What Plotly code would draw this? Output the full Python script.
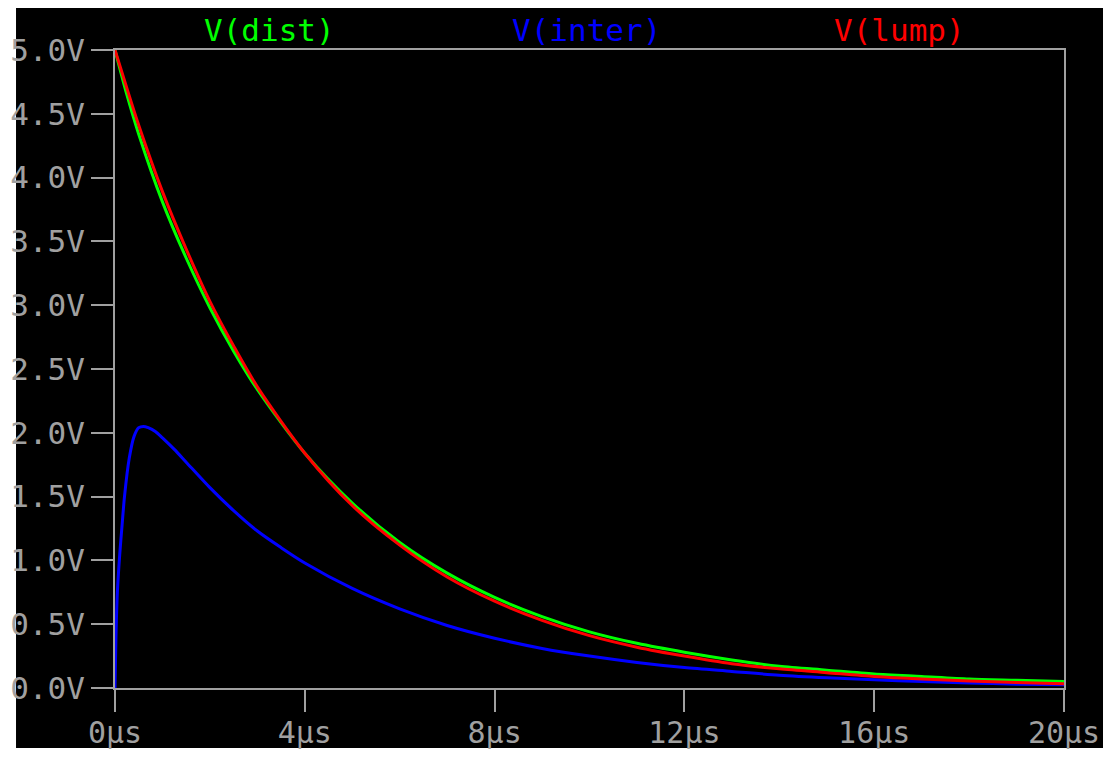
import plotly.graph_objects as go

# time axis in microseconds
t_lump = [0, 0.25, 0.5, 1, 1.5, 2, 2.5, 3, 4, 5, 6, 7, 8, 9, 10, 11, 12, 13, 14, 15, 16, 17, 18, 19, 20]
v_lump = [5.00, 4.70, 4.41, 3.89, 3.44, 3.03, 2.68, 2.36, 1.84, 1.43, 1.12, 0.87, 0.68, 0.53, 0.41,
          0.32, 0.25, 0.19, 0.15, 0.12, 0.09, 0.07, 0.055, 0.043, 0.034]

t_dist = [0, 0.25, 0.5, 1, 1.5, 2, 2.5, 3, 4, 5, 6, 7, 8, 9, 10, 11, 12, 13, 14, 15, 16, 17, 18, 19, 20]
v_dist = [5.00, 4.65, 4.34, 3.81, 3.37, 2.98, 2.64, 2.34, 1.84, 1.45, 1.14, 0.90, 0.71, 0.56, 0.44,
          0.35, 0.28, 0.22, 0.17, 0.14, 0.11, 0.09, 0.07, 0.06, 0.05]

t_inter = [0, 0.02, 0.05, 0.1, 0.15, 0.2, 0.3, 0.4, 0.5, 0.6, 0.7, 0.85, 1.0, 1.25, 1.5, 2, 2.5, 3, 3.5,
           4, 5, 6, 7, 8, 9, 10, 11, 12, 13, 14, 15, 16, 17, 18, 19, 20]
v_inter = [0.0, 0.40, 0.75, 1.05, 1.28, 1.50, 1.80, 1.97, 2.04, 2.05, 2.04, 2.01, 1.96, 1.87, 1.77, 1.57,
           1.39, 1.23, 1.10, 0.98, 0.78, 0.62, 0.49, 0.39, 0.31, 0.25, 0.20, 0.16, 0.13, 0.10, 0.08,
           0.065, 0.05, 0.04, 0.03, 0.025]

series_names = ["V(dist)", "V(inter)", "V(lump)"]
series_colors = ["#00ff00", "#0000ff", "#ff0000"]

x_tickvals = [0, 4, 8, 12, 16, 20]
x_ticktext = ["0µs", "4µs", "8µs", "12µs", "16µs", "20µs"]
y_tickvals = [0, 0.5, 1.0, 1.5, 2.0, 2.5, 3.0, 3.5, 4.0, 4.5, 5.0]
y_ticktext = ["0.0V", "0.5V", "1.0V", "1.5V", "2.0V", "2.5V", "3.0V", "3.5V", "4.0V", "4.5V", "5.0V"]

GRAY = "#a0a0a0"
FONT = "DejaVu Sans Mono"

fig = go.Figure()
data = [(t_dist, v_dist), (t_inter, v_inter), (t_lump, v_lump)]
for (tx, vy), name, col in zip(data, series_names, series_colors):
    fig.add_trace(go.Scatter(x=tx, y=vy, mode="lines", name=name,
                             line=dict(color=col, width=3, shape="spline", smoothing=0.8),
                             showlegend=False))

# legend-like labels on top
label_x = [0.1633, 0.497, 0.827]
for name, col, lx in zip(series_names, series_colors, label_x):
    fig.add_annotation(x=lx, y=1.031, xref="paper", yref="paper", text=name, showarrow=False,
                       font=dict(family=FONT, size=31, color=col), xanchor="center", yanchor="middle")

# black panel
fig.add_shape(type="rect", xref="paper", yref="paper", x0=-0.1043, x1=1.0411, y0=-0.094, y1=1.069,
              fillcolor="black", line=dict(width=0), layer="below")

fig.update_layout(
    width=1103, height=741,
    margin=dict(l=107, r=47, t=42, b=61, autoexpand=False),
    paper_bgcolor="white", plot_bgcolor="black",
    font=dict(family=FONT, size=31, color=GRAY),
)
fig.update_xaxes(range=[0, 20], tickvals=x_tickvals, ticktext=x_ticktext, showgrid=False, zeroline=False,
                 showline=True, mirror=True, linecolor=GRAY, linewidth=2, automargin=False,
                 ticks="outside", ticklen=22, tickwidth=2, tickcolor=GRAY, ticklabelstandoff=-5,
                 tickfont=dict(family=FONT, size=30, color=GRAY))
fig.update_yaxes(range=[0, 5], tickvals=y_tickvals, ticktext=y_ticktext, showgrid=False, zeroline=False,
                 showline=True, mirror=True, linecolor=GRAY, linewidth=2, automargin=False,
                 ticks="outside", ticklen=22, tickwidth=2, tickcolor=GRAY,
                 tickfont=dict(family=FONT, size=31, color=GRAY))

fig.write_html("out.html")
